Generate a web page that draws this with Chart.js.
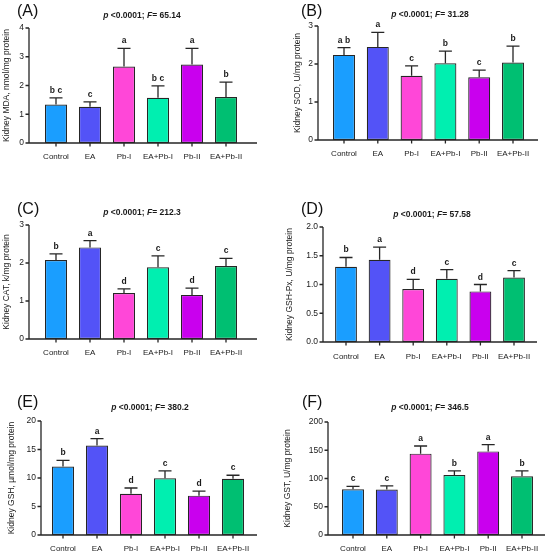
<!DOCTYPE html>
<html><head><meta charset="utf-8">
<script src="https://cdn.jsdelivr.net/npm/chart.js@4.4.1/dist/chart.umd.min.js"></script>
<style>
html,body{margin:0;padding:0;background:#fff;width:550px;height:556px;overflow:hidden;position:relative}
canvas{position:absolute}
</style></head><body>
<script>
// ---------- DATA ----------
const groups = ['Control', 'EA', 'Pb-I', 'EA+Pb-I', 'Pb-II', 'EA+Pb-II'];
const barColors = ['#1a9eff', '#5353f7', '#ff47d8', '#00efb0', '#c900ee', '#00bf72'];

const mdaMean = [1.34, 1.26, 2.66, 1.57, 2.73, 1.60];
const mdaErr = [0.23, 0.17, 0.63, 0.42, 0.56, 0.52];
const mdaLetters = ['b c', 'c', 'a', 'b c', 'a', 'b'];

const sodMean = [2.24, 2.45, 1.69, 2.02, 1.65, 2.04];
const sodErr = [0.19, 0.38, 0.26, 0.32, 0.19, 0.43];
const sodLetters = ['a b', 'a', 'c', 'b', 'c', 'b'];

const catMean = [2.08, 2.41, 1.21, 1.89, 1.16, 1.92];
const catErr = [0.16, 0.18, 0.11, 0.30, 0.18, 0.20];
const catLetters = ['b', 'a', 'd', 'c', 'd', 'c'];

const gpxMean = [1.31, 1.43, 0.92, 1.10, 0.88, 1.12];
const gpxErr = [0.16, 0.22, 0.17, 0.16, 0.12, 0.12];
const gpxLetters = ['b', 'a', 'd', 'c', 'd', 'c'];

const gshMean = [12.0, 15.7, 7.25, 9.94, 6.9, 9.88];
const gshErr = [1.1, 1.2, 1.0, 1.3, 0.8, 0.6];
const gshLetters = ['b', 'a', 'd', 'c', 'd', 'c'];

const gstMean = [81, 80.6, 144, 106, 148, 104];
const gstErr = [5, 6.5, 13.5, 7.5, 12, 9.5];
const gstLetters = ['c', 'c', 'a', 'b', 'a', 'b'];

const panelTags = ['(A)', '(B)', '(C)', '(D)', '(E)', '(F)'];
const yTitles = ['Kidney MDA, nmol/mg protein', 'Kidney SOD, U/mg protein', 'Kidney CAT, k/mg protein',
                 'Kidney GSH-Px, U/mg protein', 'Kidney GSH, µmol/mg protein', 'Kidney GST, U/mg protein'];
const fValues = ['65.14', '31.28', '212.3', '57.58', '380.2', '346.5'];
const pText = ' <0.0001; ';
const yMaxes = [4, 3, 3, 2, 20, 200];
const ySteps = [1, 1, 1, 0.5, 5, 50];
const yDecimals = [0, 0, 0, 1, 0, 0];

// ---------- LAYOUT (page pixels) ----------
const layouts = [
  {ox:0,   oy:0,   h:185, axisX:29,  yTop:28,  yBot:143, xEnd:257, first:56,  step:34,   labelY:157, ylabX:7,   tagX:17,  tagY:12,  titleX:142, titleY:13},
  {ox:275, oy:0,   h:185, axisX:318, yTop:26,  yBot:140, xEnd:538, first:344, step:33.8, labelY:154, ylabX:298, tagX:301, tagY:12,  titleX:430, titleY:12},
  {ox:0,   oy:185, h:185, axisX:29,  yTop:225, yBot:339, xEnd:257, first:56,  step:34,   labelY:353, ylabX:7,   tagX:17,  tagY:210, titleX:142, titleY:210},
  {ox:275, oy:185, h:185, axisX:323, yTop:227, yBot:342, xEnd:537, first:346, step:33.6, labelY:357, ylabX:290, tagX:301, tagY:210, titleX:432, titleY:212},
  {ox:0,   oy:370, h:186, axisX:41,  yTop:421, yBot:535, xEnd:257, first:63,  step:34,   labelY:549, ylabX:12,  tagX:17,  tagY:403, titleX:150, titleY:405},
  {ox:275, oy:370, h:186, axisX:328, yTop:422, yBot:535, xEnd:545, first:353, step:33.8, labelY:549, ylabX:288, tagX:302, tagY:403, titleX:430, titleY:405}
];

const FAMILY = '"Liberation Sans", Arial, Helvetica, sans-serif';
const INK = '#1a1a1a';

const panelPlugin = {
  id: 'panel',
  afterDatasetsDraw(chart, args, o) {
    const ctx = chart.ctx, ys = chart.scales.y, ca = chart.chartArea;
    const meta = chart.getDatasetMeta(0);
    ctx.save();
    ctx.strokeStyle = '#262626';
    ctx.lineWidth = 1.3;
    // error bars (upper)
    meta.data.forEach((bar, i) => {
      const y0 = ys.getPixelForValue(o.mean[i]);
      const y1 = ys.getPixelForValue(o.mean[i] + o.err[i]);
      ctx.beginPath();
      ctx.moveTo(bar.x, y0); ctx.lineTo(bar.x, y1);
      ctx.moveTo(bar.x - 6.5, y1); ctx.lineTo(bar.x + 6.5, y1);
      ctx.stroke();
      ctx.fillStyle = INK;
      ctx.font = 'bold 8.5px ' + FAMILY;
      ctx.textAlign = 'center';
      ctx.textBaseline = 'alphabetic';
      ctx.fillText(o.letters[i], bar.x, y1 - 5);
    });
    // axes
    const ax = ca.left - o.gap, xe = ca.right + o.extra;
    const yb = ys.getPixelForValue(0), yt = ys.getPixelForValue(ys.max);
    ctx.beginPath();
    ctx.moveTo(ax, yt); ctx.lineTo(ax, yb); ctx.lineTo(xe, yb);
    ys.ticks.forEach(t => {
      const y = ys.getPixelForValue(t.value);
      ctx.moveTo(ax - 3.5, y); ctx.lineTo(ax, y);
    });
    meta.data.forEach(bar => { ctx.moveTo(bar.x, yb); ctx.lineTo(bar.x, yb + 3.5); });
    ctx.stroke();
    // panel tag
    ctx.fillStyle = '#111';
    ctx.font = '16px ' + FAMILY;
    ctx.textAlign = 'left';
    ctx.textBaseline = 'middle';
    ctx.fillText(o.tag, o.tagX, o.tagY);
    // statistics title with italic p and F
    const segs = [['p', true], [pText, false], ['F', true], ['= ' + o.fval, false]];
    const fontOf = it => (it ? 'italic ' : '') + 'bold 8.5px ' + FAMILY;
    let total = 0;
    segs.forEach(s => { ctx.font = fontOf(s[1]); total += ctx.measureText(s[0]).width; });
    let x = o.titleX - total / 2;
    ctx.fillStyle = INK;
    segs.forEach(s => { ctx.font = fontOf(s[1]); ctx.fillText(s[0], x, o.titleY); x += ctx.measureText(s[0]).width; });
    ctx.restore();
  }
};

const means = [mdaMean, sodMean, catMean, gpxMean, gshMean, gstMean];
const errs = [mdaErr, sodErr, catErr, gpxErr, gshErr, gstErr];
const letterSets = [mdaLetters, sodLetters, catLetters, gpxLetters, gshLetters, gstLetters];

layouts.forEach((L, k) => {
  const W = 275;
  const canvas = document.createElement('canvas');
  canvas.width = W; canvas.height = L.h;
  canvas.style.left = L.ox + 'px'; canvas.style.top = L.oy + 'px';
  canvas.style.width = W + 'px'; canvas.style.height = L.h + 'px';
  document.body.appendChild(canvas);

  const chartLeft = L.first - L.step / 2 - L.ox;
  const chartRight = L.first + 5.5 * L.step - L.ox;
  const lh = 8.5 * 1.2;
  const padLeft = Math.max(0, L.ylabX - L.ox - lh / 2);
  const yAxisW = chartLeft - padLeft;
  const xAxisH = L.h - (L.yBot - L.oy);
  const gap = (L.first - L.step / 2) - L.axisX;
  const extra = L.xEnd - (L.first + 5.5 * L.step);
  const dec = yDecimals[k];

  new Chart(canvas, {
    type: 'bar',
    data: {
      labels: groups,
      datasets: [{
        data: means[k],
        backgroundColor: barColors,
        borderColor: '#262626',
        borderWidth: 1.2,
        borderSkipped: false,
        barPercentage: 0.65,
        categoryPercentage: 1
      }]
    },
    options: {
      responsive: false,
      animation: false,
      devicePixelRatio: 1,
      layout: { padding: { left: padLeft, right: W - chartRight, top: L.yTop - L.oy, bottom: 0 } },
      plugins: {
        legend: { display: false },
        tooltip: { enabled: false },
        panel: {
          mean: means[k], err: errs[k], letters: letterSets[k], gap: gap, extra: extra,
          tag: panelTags[k], tagX: L.tagX - L.ox, tagY: L.tagY - L.oy,
          fval: fValues[k], titleX: L.titleX - L.ox, titleY: L.titleY - L.oy + 3
        }
      },
      scales: {
        x: {
          type: 'category',
          offset: true,
          grid: { display: false, drawTicks: false },
          border: { display: false },
          ticks: { font: { family: FAMILY, size: 8 }, color: INK, padding: L.labelY - L.yBot - 5, maxRotation: 0, autoSkip: false },
          afterFit(s) { s.height = xAxisH; }
        },
        y: {
          min: 0, max: yMaxes[k],
          grid: { display: false, drawTicks: false },
          border: { display: false },
          ticks: { stepSize: ySteps[k], font: { family: FAMILY, size: 8.5 }, color: INK, padding: gap + 5,
                   callback: v => Number(v).toFixed(dec) },
          title: { display: true, text: yTitles[k], font: { family: FAMILY, size: 8.5 }, color: INK, padding: 0 },
          afterFit(s) { s.width = yAxisW; }
        }
      }
    },
    plugins: [panelPlugin]
  });
});
</script>
</body></html>
